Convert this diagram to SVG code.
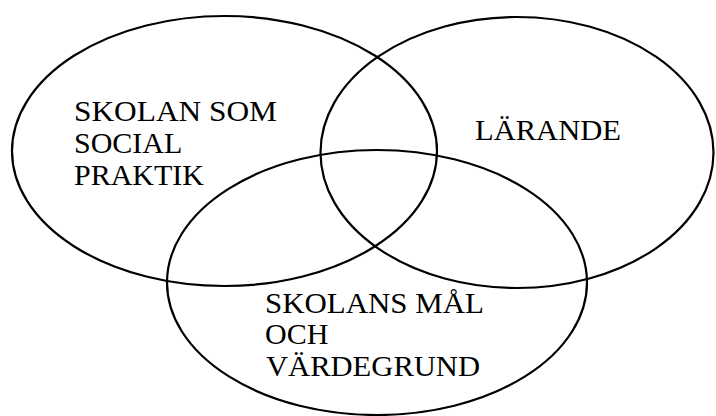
<svg xmlns="http://www.w3.org/2000/svg" width="716" height="416" viewBox="0 0 716 416">
<style>
.c{fill:none;stroke:#000;stroke-width:2.2}
.t{font-family:"Liberation Serif","DejaVu Serif","Times New Roman",serif;font-size:30px;fill:#000}
</style>
<rect width="716" height="416" fill="#fff"/>
<g id="connectors"></g>
<g id="social">
<ellipse class="c" cx="224.5" cy="151" rx="212.5" ry="135"/>
<text class="t" x="74" y="121" textLength="203" lengthAdjust="spacingAndGlyphs">SKOLAN SOM</text>
<text class="t" x="74" y="153">SOCIAL</text>
<text class="t" x="74" y="185">PRAKTIK</text>
</g>
<g id="larande">
<ellipse class="c" cx="517" cy="152.5" rx="196.5" ry="135.5"/>
<text class="t" x="475" y="140" textLength="146" lengthAdjust="spacingAndGlyphs">LÄRANDE</text>
</g>
<g id="mal">
<ellipse class="c" cx="377" cy="282.5" rx="210" ry="132.5"/>
<text class="t" x="265" y="313" textLength="219" lengthAdjust="spacingAndGlyphs">SKOLANS MÅL</text>
<text class="t" x="265" y="344">OCH</text>
<text class="t" x="266" y="376" textLength="214" lengthAdjust="spacingAndGlyphs">VÄRDEGRUND</text>
</g>
</svg>
